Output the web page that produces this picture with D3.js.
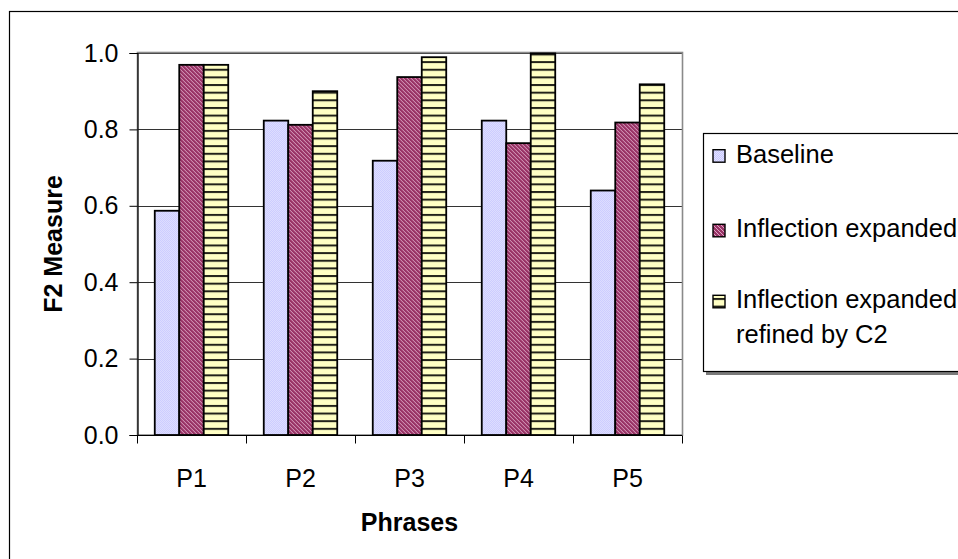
<!DOCTYPE html>
<html>
<head>
<meta charset="utf-8">
<script src="https://cdn.jsdelivr.net/npm/d3@7"></script>
<style>
  html, body { margin: 0; padding: 0; background: #fff; }
  svg { display: block; font-family: "Liberation Sans", Arial, sans-serif; }
</style>
</head>
<body>
<svg id="chart" width="958" height="559"></svg>
<script>
// F2 measure per phrase for three retrieval settings
const categories = ["P1", "P2", "P3", "P4", "P5"];
const seriesNames = ["Baseline", "Inflection expanded", "Inflection expanded refined by C2"];
const baseline = [0.587, 0.823, 0.718, 0.823, 0.640];
const inflectionExpanded = [0.969, 0.812, 0.937, 0.764, 0.818];
const refinedByC2 = [0.969, 0.900, 0.989, 0.999, 0.918];
const yTicks = [0.0, 0.2, 0.4, 0.6, 0.8, 1.0];

const seriesValues = [baseline, inflectionExpanded, refinedByC2];

const svg = d3.select("#chart");
const defs = svg.append("defs");

// Fill patterns for the three series
const pBase = defs.append("pattern").attr("id", "pat-base")
  .attr("patternUnits", "userSpaceOnUse").attr("width", 2).attr("height", 2);
pBase.append("rect").attr("width", 2).attr("height", 2).attr("fill", "#c6c6ff");
pBase.append("rect").attr("width", 1).attr("height", 1).attr("fill", "#e4e4ff");
pBase.append("rect").attr("x", 1).attr("y", 1).attr("width", 1).attr("height", 1).attr("fill", "#e4e4ff");

const pInf = defs.append("pattern").attr("id", "pat-inf")
  .attr("patternUnits", "userSpaceOnUse").attr("width", 4).attr("height", 4);
pInf.append("rect").attr("width", 4).attr("height", 4).attr("fill", "#993366");
pInf.append("path").attr("d", "M-1,-1 L5,5 M3,-1 L5,1 M-1,3 L1,5")
  .attr("stroke", "#dca6c4").attr("stroke-width", 1);

const pRef = defs.append("pattern").attr("id", "pat-ref")
  .attr("patternUnits", "userSpaceOnUse").attr("width", 8).attr("height", 7.64);
pRef.append("rect").attr("width", 8).attr("height", 7.64).attr("fill", "#ffffc4");
pRef.append("rect").attr("y", 0).attr("width", 8).attr("height", 2).attr("fill", "#22221a");

const fills = ["url(#pat-base)", "url(#pat-inf)", "url(#pat-ref)"];

// Outer chart frame
svg.append("rect")
  .attr("x", 9.5).attr("y", 11.5).attr("width", 1000).attr("height", 600)
  .attr("fill", "none").attr("stroke", "#000").attr("stroke-width", 1.2);

const plot = { left: 137, right: 682, top: 53, bottom: 435 };

const x0 = d3.scaleBand().domain(categories)
  .range([plot.left, plot.right]).paddingInner(0.326).paddingOuter(0.163);
const x1 = d3.scaleBand().domain(d3.range(seriesNames.length))
  .range([0, x0.bandwidth()]);
const y = d3.scaleLinear().domain([0, 1]).range([plot.bottom, plot.top]);

// Gridlines
svg.append("g").selectAll("line").data(yTicks.filter(d => d > 0)).join("line")
  .attr("x1", plot.left).attr("x2", plot.right)
  .attr("y1", d => Math.round(y(d)) + 0.5).attr("y2", d => Math.round(y(d)) + 0.5)
  .attr("stroke", "#333").attr("stroke-width", 1);

// Plot area frame
svg.append("rect")
  .attr("x", plot.left + 0.5).attr("y", plot.top - 0.5)
  .attr("width", plot.right - plot.left).attr("height", plot.bottom - plot.top + 0.5)
  .attr("fill", "none").attr("stroke", "#8a8a8a").attr("stroke-width", 1.6);

// Bars
const groups = svg.append("g").selectAll("g").data(categories).join("g")
  .attr("transform", d => `translate(${x0(d)},0)`);
groups.selectAll("rect")
  .data((c, ci) => seriesValues.map((vals, si) => ({ si, v: vals[ci] })))
  .join("rect")
  .attr("x", d => x1(d.si))
  .attr("y", d => y(d.v))
  .attr("width", x1.bandwidth())
  .attr("height", d => y(0) - y(d.v))
  .attr("fill", d => fills[d.si])
  .attr("stroke", "#000").attr("stroke-width", 1.8);

// Y axis
const yAxis = d3.axisLeft(y).tickValues(yTicks).tickFormat(d3.format(".1f"))
  .tickSize(8).tickPadding(11);
const gy = svg.append("g").attr("transform", `translate(${plot.left + 0.5},0)`).call(yAxis);
gy.select(".domain").attr("stroke", "#000").attr("stroke-width", 1.2);
gy.selectAll(".tick line").attr("stroke", "#000");
gy.selectAll(".tick text").attr("font-size", 25).attr("fill", "#000")
  .attr("font-family", "Liberation Sans, Arial, sans-serif");

// X axis with ticks between categories
const gx = svg.append("g").attr("transform", `translate(0,${plot.bottom + 0.5})`);
gx.append("line").attr("x1", plot.left).attr("x2", plot.right)
  .attr("stroke", "#000").attr("stroke-width", 1.2);
const step = x0.step();
gx.selectAll("line.tk").data(d3.range(categories.length + 1)).join("line")
  .attr("class", "tk")
  .attr("x1", i => plot.left + 0.5 + i * step).attr("x2", i => plot.left + 0.5 + i * step)
  .attr("y1", 0).attr("y2", 8).attr("stroke", "#000");
gx.selectAll("text").data(categories).join("text")
  .attr("x", d => x0(d) + x0.bandwidth() / 2)
  .attr("y", 51)
  .attr("text-anchor", "middle").attr("font-size", 25).attr("fill", "#000")
  .text(d => d);

// Axis titles
svg.append("text")
  .attr("x", (plot.left + plot.right) / 2).attr("y", 531)
  .attr("text-anchor", "middle").attr("font-size", 25).attr("font-weight", "bold")
  .text("Phrases");
svg.append("text")
  .attr("transform", `translate(62,${(plot.top + plot.bottom) / 2}) rotate(-90)`)
  .attr("text-anchor", "middle").attr("font-size", 25).attr("font-weight", "bold")
  .text("F2 Measure");

// Legend with shadow
const legend = svg.append("g");
legend.append("rect").attr("x", 706).attr("y", 136).attr("width", 300).attr("height", 239)
  .attr("fill", "#7a7a7a");
legend.append("rect").attr("x", 703.5).attr("y", 133.5).attr("width", 300).attr("height", 238)
  .attr("fill", "#fff").attr("stroke", "#000").attr("stroke-width", 1.2);

const legendRows = [
  { lines: ["Baseline"], base: 162.7 },
  { lines: ["Inflection expanded"], base: 237.3 },
  { lines: ["Inflection expanded", "refined by C2"], base: 308.3 }
];
legendRows.forEach((r, i) => {
  legend.append("rect")
    .attr("x", 713).attr("y", r.base - 13).attr("width", 12).attr("height", 12.5)
    .attr("fill", fills[i]).attr("stroke", "#000").attr("stroke-width", 1.4);
  const t = legend.append("text").attr("x", 736).attr("y", r.base)
    .attr("font-size", 25.5).attr("fill", "#000");
  r.lines.forEach((ln, k) => {
    t.append("tspan").attr("x", 736).attr("dy", k === 0 ? 0 : 34.4).text(ln);
  });
});
</script>
</body>
</html>
